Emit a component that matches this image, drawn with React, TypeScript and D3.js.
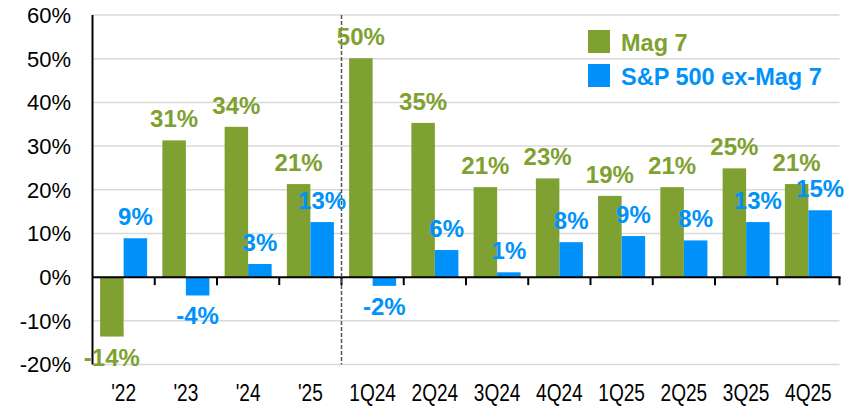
import React from "react";
import * as d3 from "d3";

const categories = ["'22", "'23", "'24", "'25", "1Q24", "2Q24", "3Q24", "4Q24", "1Q25", "2Q25", "3Q25", "4Q25"];
const mag7 = [-13.6, 31.3, 34.4, 21.3, 50.1, 35.3, 20.6, 22.6, 18.6, 20.6, 24.9, 21.3];
const spExMag7 = [8.9, -4.2, 3.0, 12.6, -2.0, 6.2, 1.1, 8.0, 9.4, 8.4, 12.6, 15.3];
const yTicks = [-20, -10, 0, 10, 20, 30, 40, 50, 60];
const seriesNames = ["Mag 7", "S&P 500 ex-Mag 7"];
const dividerAfter = "'25";

const GREEN = "#7EA131";
const BLUE = "#0092FA";
const FONT = "'Liberation Sans', Arial, Helvetica, sans-serif";

export default function App() {
  const W = 858, H = 408;
  const left = 92.5, right = 839.5, top = 15, bottom = 364.5;

  const x = d3.scaleBand<string>().domain(categories).range([left, right]).paddingInner(0).paddingOuter(0);
  const xs = d3.scaleBand<string>().domain(["m", "s"]).range([0, x.step()]).paddingInner(0).paddingOuter(0.324);
  const y = d3.scaleLinear().domain([-20, 60]).range([bottom, top]);
  const y0 = y(0);
  const fmt = (v: number) => `${Math.round(v)}%`;

  const series = [
    { key: "m", values: mag7, color: GREEN },
    { key: "s", values: spExMag7, color: BLUE },
  ];

  const dividerX = (x(dividerAfter) as number) + x.step();

  return (
    <svg width={W} height={H} style={{ position: "absolute", left: 0, top: 0, background: "#fff" }} fontFamily={FONT}>
      {yTicks.map((t) =>
        t === 0 ? null : (
          <line key={"g" + t} x1={left} x2={right} y1={y(t)} y2={y(t)} stroke="#D9D9D9" strokeWidth={1.5} />
        )
      )}
      {yTicks.map((t) => (
        <text key={"yl" + t} x={71} y={y(t)} dy="0.36em" textAnchor="end" fontSize={22} fill="#000">
          {`${t}%`}
        </text>
      ))}
      {series.map((s) =>
        categories.map((c, i) => {
          const v = s.values[i];
          const bx = (x(c) as number) + (xs(s.key) as number);
          return (
            <rect
              key={s.key + c}
              x={bx}
              y={Math.min(y(v), y0)}
              width={xs.bandwidth()}
              height={Math.abs(y(v) - y0)}
              fill={s.color}
            />
          );
        })
      )}
      <line x1={left} x2={right + 1} y1={y0} y2={y0} stroke="#000" strokeWidth={2} />
      {categories.map((c, i) => {
        const tx = (x(c) as number) + x.step();
        return <line key={"t" + i} x1={tx} x2={tx} y1={y0} y2={y0 + 8} stroke="#000" strokeWidth={2} />;
      })}
      <line x1={left} x2={left} y1={top} y2={bottom} stroke="#000" strokeWidth={2} />
      <line x1={dividerX} x2={dividerX} y1={top} y2={bottom} stroke="#555" strokeWidth={1.5} strokeDasharray="4,2" />
      {categories.map((c) => {
        const cx = (x(c) as number) + x.step() / 2;
        return (
          <text
            key={"xl" + c}
            transform={`translate(${cx},401) scale(0.83,1)`}
            textAnchor="middle"
            fontSize={23}
            fill="#000"
          >
            {c}
          </text>
        );
      })}
      {series.map((s) =>
        categories.map((c, i) => {
          const v = s.values[i];
          const cx = (x(c) as number) + (xs(s.key) as number) + xs.bandwidth() / 2;
          const ly = v >= 0 ? y(v) - 13 : y(v) + 29;
          return (
            <text key={"dl" + s.key + c} x={cx} y={ly} textAnchor="middle" fontSize={24} fontWeight="bold" fill={s.color}>
              {fmt(v)}
            </text>
          );
        })
      )}
      {seriesNames.map((n, i) => (
        <g key={"lg" + i} transform={`translate(588,${30 + i * 34})`}>
          <rect x={0} y={0} width={22} height={23} fill={series[i].color} />
          <text x={33} y={20.5} fontSize={23.5} fontWeight="bold" fill={series[i].color}>
            {n}
          </text>
        </g>
      ))}
    </svg>
  );
}
